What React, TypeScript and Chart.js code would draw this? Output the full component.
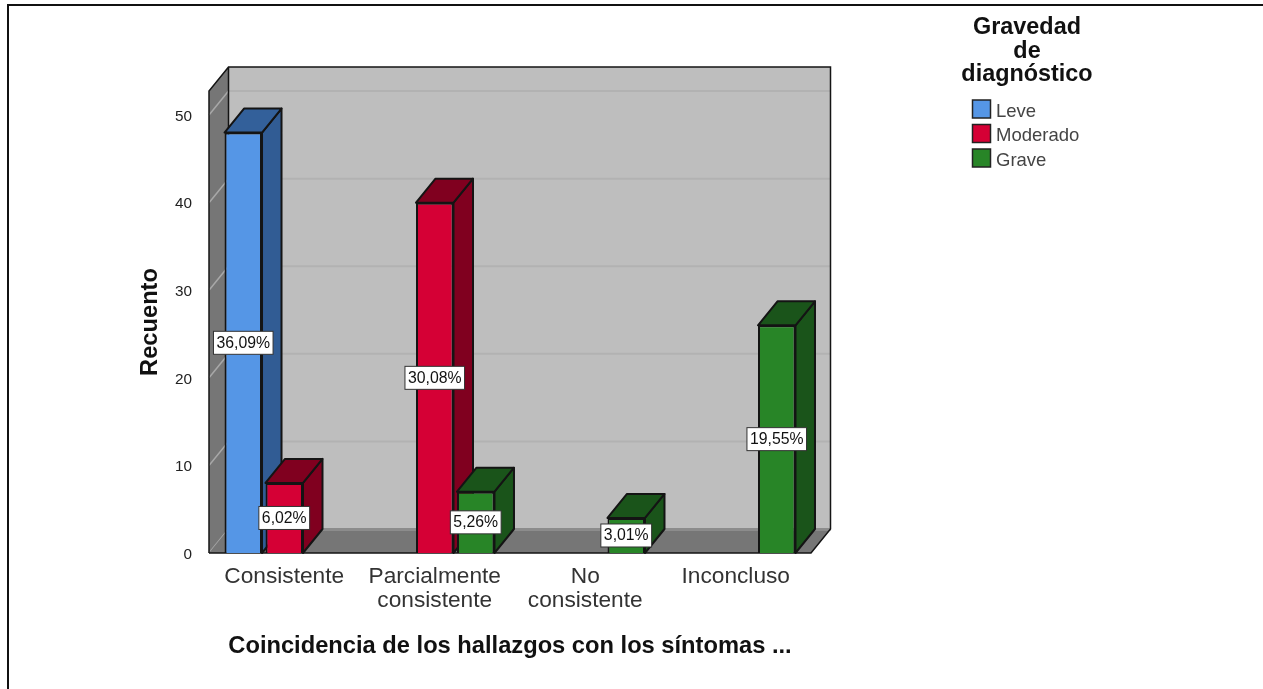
import React, { useEffect, useRef } from "react";
import { Chart, registerables } from "chart.js";

Chart.register(...registerables);

const categories = [["Consistente"], ["Parcialmente", "consistente"], ["No", "consistente"], ["Inconcluso"]];
const leve = [48, null, null, null];
const moderado = [8, 40, null, null];
const grave = [null, 7, 4, 26];
const leveLabels = ["36,09%", null, null, null];
const moderadoLabels = ["6,02%", "30,08%", null, null];
const graveLabels = [null, "5,26%", "3,01%", "19,55%"];
const legendTitle = ["Gravedad", "de", "diagnóstico"];
const yTicks = [0, 10, 20, 30, 40, 50];

const FONT = '"Liberation Sans", Arial, sans-serif';
const DEPTH_X = 19.5;
const DEPTH_Y = 24;
const WALL_TOP_VALUE = 52.75;
const LINE = "#141414";

const shades = [
  { front: "#5596e6", side: "#315c94", top: "#33609a", labels: leveLabels },
  { front: "#d50035", side: "#80001f", top: "#80001f", labels: moderadoLabels },
  { front: "#288527", side: "#1a541a", top: "#1a541a", labels: graveLabels },
];

function poly(ctx: CanvasRenderingContext2D, pts: number[][], fill: string | null, stroke: string | null, lw = 2) {
  ctx.beginPath();
  pts.forEach((p, i) => (i ? ctx.lineTo(p[0], p[1]) : ctx.moveTo(p[0], p[1])));
  ctx.closePath();
  if (fill) {
    ctx.fillStyle = fill;
    ctx.fill();
  }
  if (stroke) {
    ctx.strokeStyle = stroke;
    ctx.lineWidth = lw;
    ctx.lineJoin = "round";
    ctx.stroke();
  }
}

const scene3d = {
  id: "scene3d",
  beforeDatasetsDraw(chart: any) {
    const ctx = chart.ctx;
    const { left, right } = chart.chartArea;
    const y = chart.scales.y;
    const y0 = y.getPixelForValue(0);
    const yTop = y.getPixelForValue(WALL_TOP_VALUE);
    const dx = DEPTH_X;
    const dy = DEPTH_Y;
    ctx.save();
    // back wall
    poly(ctx, [[left + dx, yTop - dy], [right + dx, yTop - dy], [right + dx, y0 - dy], [left + dx, y0 - dy]], "#bebebe", null);
    // side wall
    poly(ctx, [[left, yTop], [left + dx, yTop - dy], [left + dx, y0 - dy], [left, y0]], "#767676", null);
    // grid lines
    yTicks.forEach((v) => {
      const p = y.getPixelForValue(v);
      ctx.strokeStyle = "#a8a8a8";
      ctx.lineWidth = 1.5;
      ctx.beginPath();
      ctx.moveTo(left, p);
      ctx.lineTo(left + dx, p - dy);
      ctx.stroke();
      if (v > 0) {
        ctx.strokeStyle = "#b2b2b2";
        ctx.lineWidth = 2;
        ctx.beginPath();
        ctx.moveTo(left + dx, p - dy);
        ctx.lineTo(right + dx, p - dy);
        ctx.stroke();
      }
    });
    // floor
    poly(ctx, [[left, y0], [right, y0], [right + dx, y0 - dy], [left + dx, y0 - dy]], "#767676", null);
    ctx.fillStyle = "#8c8c8c";
    ctx.fillRect(left + dx, y0 - dy - 1, right - left, 3);
    // outlines
    ctx.strokeStyle = LINE;
    ctx.lineWidth = 1.5;
    ctx.beginPath();
    ctx.moveTo(left, y0);
    ctx.lineTo(left, yTop);
    ctx.lineTo(left + dx, yTop - dy);
    ctx.lineTo(right + dx, yTop - dy);
    ctx.lineTo(right + dx, y0 - dy);
    ctx.lineTo(right, y0);
    ctx.lineTo(left, y0);
    ctx.moveTo(left + dx, yTop - dy);
    ctx.lineTo(left + dx, y0 - dy);
    ctx.stroke();
    // side and top faces of every bar
    chart.data.datasets.forEach((ds: any, di: number) => {
      const meta = chart.getDatasetMeta(di);
      meta.data.forEach((el: any, i: number) => {
        if (ds.data[i] == null) return;
        const { x, y: top, base, width } = el.getProps(["x", "y", "base", "width"], true);
        const l = x - width / 2;
        const r = x + width / 2;
        const s = shades[di];
        poly(ctx, [[r, top], [r + dx, top - dy], [r + dx, base - dy], [r, base]], s.side, LINE);
        poly(ctx, [[l, top], [l + dx, top - dy], [r + dx, top - dy], [r, top]], s.top, LINE);
      });
    });
    ctx.restore();
  },
  afterDatasetsDraw(chart: any) {
    const ctx = chart.ctx;
    ctx.save();
    ctx.font = `15.8px ${FONT}`;
    ctx.textAlign = "center";
    ctx.textBaseline = "middle";
    chart.data.datasets.forEach((ds: any, di: number) => {
      const meta = chart.getDatasetMeta(di);
      meta.data.forEach((el: any, i: number) => {
        const text = shades[di].labels[i];
        if (ds.data[i] == null || !text) return;
        const { x, y: top, base } = el.getProps(["x", "y", "base"], true);
        const cy = (top + base) / 2;
        const w = ctx.measureText(text).width + 6;
        const h = 23;
        ctx.fillStyle = "#ffffff";
        ctx.strokeStyle = "#333333";
        ctx.lineWidth = 1;
        ctx.fillRect(x - w / 2, cy - h / 2, w, h);
        ctx.strokeRect(x - w / 2, cy - h / 2, w, h);
        ctx.fillStyle = "#111111";
        ctx.fillText(text, x, cy + 0.5);
      });
    });
    ctx.restore();
  },
  afterDraw(chart: any) {
    const ctx = chart.ctx;
    ctx.save();
    // picture frame
    ctx.strokeStyle = "#111111";
    ctx.lineWidth = 2;
    ctx.beginPath();
    ctx.moveTo(8, 689);
    ctx.lineTo(8, 5);
    ctx.lineTo(1263, 5);
    ctx.stroke();
    // legend title
    ctx.fillStyle = "#111111";
    ctx.textAlign = "center";
    ctx.textBaseline = "middle";
    ctx.font = `bold 23.4px ${FONT}`;
    legendTitle.forEach((t, i) => ctx.fillText(t, 1027, 28 + i * 23.5));
    // legend entries
    ctx.font = `18.5px ${FONT}`;
    ctx.textAlign = "left";
    chart.data.datasets.forEach((ds: any, di: number) => {
      const yy = 100 + di * 24.5;
      ctx.fillStyle = ds.backgroundColor;
      ctx.fillRect(972.5, yy, 18, 18);
      ctx.strokeStyle = "#222222";
      ctx.lineWidth = 1.5;
      ctx.strokeRect(972.5, yy, 18, 18);
      ctx.fillStyle = "#444444";
      ctx.fillText(ds.label, 996, yy + 11.5);
    });
    ctx.restore();
  },
};

export default function App() {
  const ref = useRef<HTMLCanvasElement>(null);
  useEffect(() => {
    const make = (label: string, data: (number | null)[], color: string) => ({
      label,
      data,
      backgroundColor: color,
      borderColor: LINE,
      borderWidth: 2,
      categoryPercentage: 0.817,
      barPercentage: 0.915,
    });
    const chart = new Chart(ref.current as HTMLCanvasElement, {
      type: "bar",
      data: {
        labels: categories,
        datasets: [
          make("Leve", leve, shades[0].front),
          make("Moderado", moderado, shades[1].front),
          make("Grave", grave, shades[2].front),
        ],
      },
      options: {
        responsive: false,
        animation: false,
        layout: { padding: { left: 136, top: 91, right: 452, bottom: 28 } },
        plugins: { legend: { display: false }, tooltip: { enabled: false } },
        scales: {
          x: {
            grid: { display: false },
            border: { display: false },
            ticks: {
              autoSkip: false,
              maxRotation: 0,
              padding: 4,
              color: "#333333",
              font: { family: FONT, size: 22.7, lineHeight: 1.057 },
            },
            title: {
              display: true,
              text: "Coincidencia de los hallazgos con los síntomas ...",
              color: "#111111",
              font: { family: FONT, size: 23.7, weight: "bold" },
              padding: 0,
            },
            afterFit(s: any) {
              s.height = 108;
            },
          },
          y: {
            min: 0,
            max: WALL_TOP_VALUE,
            afterBuildTicks(s: any) {
              s.ticks = yTicks.map((value) => ({ value }));
            },
            grid: { display: false },
            border: { display: false },
            ticks: {
              padding: 9,
              labelOffset: 1.5,
              color: "#222222",
              font: { family: FONT, size: 15.3 },
            },
            title: {
              display: true,
              text: "Recuento",
              color: "#111111",
              font: { family: FONT, size: 23.7, weight: "bold" },
              padding: 0,
            },
            afterFit(s: any) {
              s.width = 73;
            },
          },
        },
      },
      plugins: [scene3d],
    } as any);
    return () => chart.destroy();
  }, []);
  return (
    <div style={{ position: "absolute", left: 0, top: 0, width: 1263, height: 689, background: "#ffffff" }}>
      <canvas ref={ref} width={1263} height={689} style={{ display: "block" }} />
    </div>
  );
}
